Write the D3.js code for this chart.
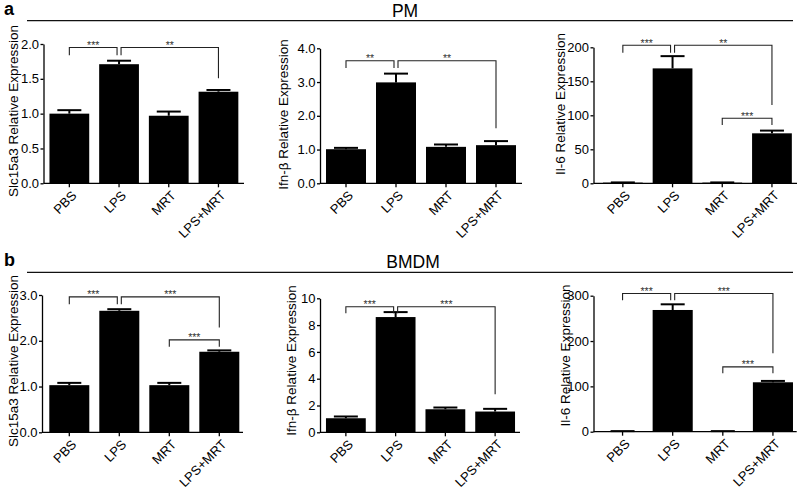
<!DOCTYPE html>
<html>
<head>
<meta charset="utf-8">
<script src="https://cdn.jsdelivr.net/npm/d3@7"></script>
<style>
  body { margin: 0; background: #fff; }
  text { font-family: "Liberation Sans", Arial, Helvetica, sans-serif; }
</style>
</head>
<body>
<div id="chart"></div>
<script>
var categories = ["PBS", "LPS", "MRT", "LPS+MRT"];

// PM
var pmSlc15a3 = [1.00, 1.71, 0.97, 1.315];
var pmSlc15a3Err = [0.05, 0.05, 0.06, 0.025];
var pmIfnb = [1.01, 2.99, 1.08, 1.13];
var pmIfnbErr = [0.04, 0.26, 0.07, 0.12];
var pmIl6 = [1, 169, 1, 73.5];
var pmIl6Err = [0.3, 18, 0.3, 4];

// BMDM
var bmdmSlc15a3 = [1.03, 2.655, 1.03, 1.76];
var bmdmSlc15a3Err = [0.05, 0.035, 0.05, 0.03];
var bmdmIfnb = [1.05, 8.6, 1.72, 1.55];
var bmdmIfnbErr = [0.13, 0.37, 0.13, 0.2];
var bmdmIl6 = [1, 268.5, 1, 109];
var bmdmIl6Err = [0.3, 12.5, 0.3, 3];

// y ticks
var pmSlc15a3Ticks = [0, 0.5, 1.0, 1.5, 2.0];
var pmIfnbTicks = [0, 1, 2, 3, 4];
var pmIl6Ticks = [0, 50, 100, 150, 200];
var bmdmSlc15a3Ticks = [0, 1, 2, 3];
var bmdmIfnbTicks = [0, 2, 4, 6, 8, 10];
var bmdmIl6Ticks = [0, 100, 200, 300];

// significance brackets: [from, to, level, left leg end, right leg end, label]
var pmSlc15a3Sig = [[0, 1, 1.95, 1.84, 1.84, "***"], [1, 3, 1.95, 1.84, 1.51, "**"]];
var pmIfnbSig = [[0, 1, 3.63, 3.42, 3.42, "**"], [1, 3, 3.63, 3.42, 1.63, "**"]];
var pmIl6Sig = [[0, 1, 203, 192, 192, "***"], [1, 3, 203, 192, 115, "**"], [2, 3, 95.6, 85.7, 85.7, "***"]];
var bmdmSlc15a3Sig = [[0, 1, 2.96, 2.80, 2.80, "***"], [1, 3, 2.96, 2.80, 2.29, "***"], [2, 3, 2.02, 1.87, 1.87, "***"]];
var bmdmIfnbSig = [[0, 1, 9.37, 8.88, 8.88, "***"], [1, 3, 9.37, 8.88, 2.84, "***"]];
var bmdmIl6Sig = [[0, 1, 305, 290, 290, "***"], [1, 3, 305, 290, 173, "***"], [2, 3, 143, 129, 129, "***"]];

var svg = d3.select("#chart")
  .append("svg")
  .attr("width", 800)
  .attr("height", 489);

// section headers
function section(letter, name, cx, baseY, lineY) {
  svg.append("text")
    .attr("x", 4).attr("y", baseY - 2)
    .style("font-weight", "bold").style("font-size", "18px")
    .text(letter);
  svg.append("line")
    .attr("x1", 27).attr("x2", 793)
    .attr("y1", lineY).attr("y2", lineY)
    .attr("stroke", "#111").attr("stroke-width", 1.3);
  svg.append("text")
    .attr("x", cx).attr("y", baseY)
    .attr("text-anchor", "middle")
    .style("font-size", "17.5px")
    .text(name);
}
section("a", "PM", 405, 17, 20.7);
section("b", "BMDM", 413, 267.5, 272.3);

function drawPanel(p, values, errors, ticks, fmt, sig, title) {
  var x = d3.scaleBand()
    .domain(categories)
    .range([p.bx0, p.bx1])
    .paddingInner(0.2)
    .paddingOuter(0.12);

  var y = d3.scaleLinear()
    .domain([ticks[0], ticks[ticks.length - 1]])
    .range([p.yb, p.yt]);

  var g = svg.append("g");

  // bars
  g.selectAll(".bar")
    .data(values)
    .enter()
    .append("rect")
    .attr("x", (d, i) => x(categories[i]))
    .attr("y", d => y(d))
    .attr("width", x.bandwidth())
    .attr("height", d => p.yb - y(d))
    .attr("fill", "#000");

  // error bars (upper only)
  var cx = i => x(categories[i]) + x.bandwidth() / 2;
  values.forEach(function(v, i) {
    g.append("line")
      .attr("x1", cx(i)).attr("x2", cx(i))
      .attr("y1", y(v)).attr("y2", y(v + errors[i]))
      .attr("stroke", "#000").attr("stroke-width", 2);
    g.append("line")
      .attr("x1", cx(i) - 12).attr("x2", cx(i) + 12)
      .attr("y1", y(v + errors[i])).attr("y2", y(v + errors[i]))
      .attr("stroke", "#000").attr("stroke-width", 2);
  });

  // y axis
  var leftAxis = d3.axisLeft(y).tickValues(ticks).tickFormat(d3.format(fmt))
    .tickSize(3).tickPadding(1.5).tickSizeOuter(0);
  var ya = g.append("g")
    .attr("transform", `translate(${p.ax}, 0)`)
    .call(leftAxis);
  ya.select(".domain").attr("stroke-width", 1.3);
  ya.selectAll(".tick line").attr("stroke-width", 1.3);
  ya.selectAll("text").style("font-size", "13px").attr("fill", "#000");

  // x axis
  var bottomAxis = d3.axisBottom(x).tickSize(4).tickSizeOuter(0);
  var xa = g.append("g")
    .attr("transform", `translate(0, ${p.yb})`)
    .call(bottomAxis);
  xa.select(".domain").remove();
  xa.selectAll(".tick line").attr("stroke-width", 1.3);
  xa.selectAll("text")
    .style("font-size", "13px")
    .attr("fill", "#000")
    .style("text-anchor", "end")
    .attr("x", 0).attr("y", 0).attr("dy", "0.32em")
    .attr("transform", "translate(5, 10) rotate(-45)");
  g.append("line")
    .attr("x1", p.ax).attr("x2", p.base1)
    .attr("y1", p.yb).attr("y2", p.yb)
    .attr("stroke", "#000").attr("stroke-width", 1.3);

  // y title
  g.append("text")
    .attr("transform", `translate(${p.tx}, ${p.ty}) rotate(-90)`)
    .attr("text-anchor", "middle")
    .attr("dy", "0.35em")
    .style("font-size", "13.5px")
    .text(title);

  // significance brackets
  sig.forEach(function(s) {
    var shareL = sig.some(o => o !== s && o[1] === s[0]);
    var shareR = sig.some(o => o !== s && o[0] === s[1]);
    var xl = cx(s[0]) + (shareL ? 2 : 0);
    var xr = cx(s[1]) - (shareR ? 2 : 0);
    var yl = y(s[2]);
    g.append("path")
      .attr("d", `M${xl},${y(s[3])}V${yl}H${xr}V${y(s[4])}`)
      .attr("fill", "none")
      .attr("stroke", "#222")
      .attr("stroke-width", 1.1);
    g.append("text")
      .attr("x", (xl + xr) / 2)
      .attr("y", yl + 1.5)
      .attr("text-anchor", "middle")
      .style("font-size", "10.5px")
      .attr("fill", "#333")
      .text(s[5]);
  });
}

var layout = [
  { ax: 43.5, bx0: 43.5, bx1: 244.3, base1: 244, yb: 183.3, yt: 44, tx: 13.5, ty: 111 },
  { ax: 320, bx0: 320, bx1: 522, base1: 522, yb: 183.3, yt: 48.3, tx: 283, ty: 114.5 },
  { ax: 593.5, bx0: 597, bx1: 797.8, base1: 797, yb: 183.3, yt: 47.3, tx: 560, ty: 104 },
  { ax: 42, bx0: 43.3, bx1: 245.3, base1: 243, yb: 432.3, yt: 295, tx: 13, ty: 361 },
  { ax: 320, bx0: 320, bx1: 521, base1: 520, yb: 432.3, yt: 298.3, tx: 291.5, ty: 360.5 },
  { ax: 593.5, bx0: 596.5, bx1: 799, base1: 796.7, yb: 431.7, yt: 295.7, tx: 565, ty: 355.5 }
];

drawPanel(layout[0], pmSlc15a3, pmSlc15a3Err, pmSlc15a3Ticks, ".1f", pmSlc15a3Sig, "Slc15a3 Relative Expression");
drawPanel(layout[1], pmIfnb, pmIfnbErr, pmIfnbTicks, ".1f", pmIfnbSig, "Ifn-β Relative Expression");
drawPanel(layout[2], pmIl6, pmIl6Err, pmIl6Ticks, "d", pmIl6Sig, "Il-6 Relative Expression");
drawPanel(layout[3], bmdmSlc15a3, bmdmSlc15a3Err, bmdmSlc15a3Ticks, ".1f", bmdmSlc15a3Sig, "Slc15a3 Relative Expression");
drawPanel(layout[4], bmdmIfnb, bmdmIfnbErr, bmdmIfnbTicks, "d", bmdmIfnbSig, "Ifn-β Relative Expression");
drawPanel(layout[5], bmdmIl6, bmdmIl6Err, bmdmIl6Ticks, "d", bmdmIl6Sig, "Il-6 Relative Expression");
</script>
</body>
</html>
